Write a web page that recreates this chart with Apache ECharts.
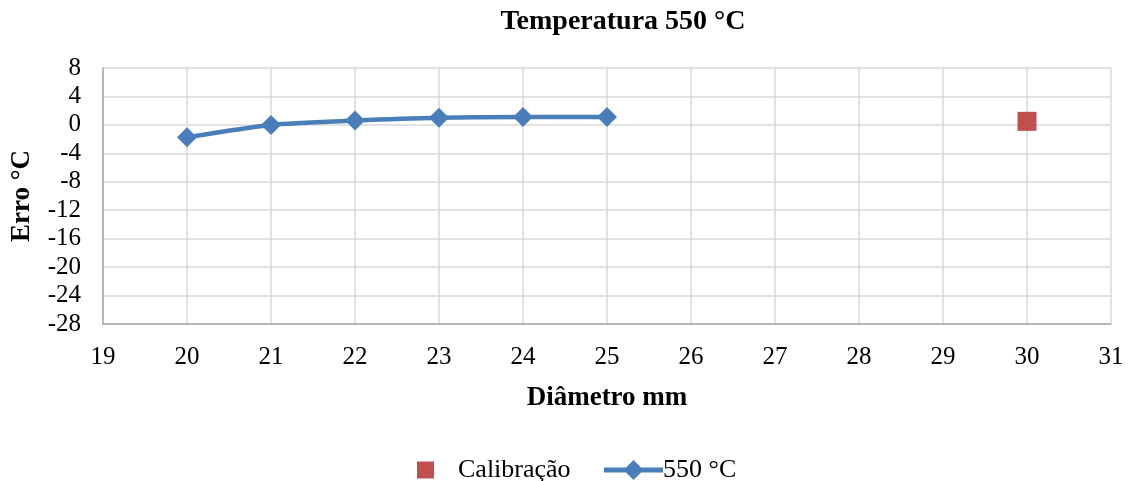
<!DOCTYPE html>
<html><head><meta charset="utf-8">
<script src="https://cdn.jsdelivr.net/npm/echarts@6/dist/echarts.min.js"></script>
<style>html,body{margin:0;padding:0;background:#fff}#c{width:1128px;height:481px}</style>
</head><body><div id="c"></div>
<script>
const diametros = [20, 21, 22, 23, 24, 25];
const erro550 = [-1.75, 0.0, 0.6, 1.0, 1.1, 1.1];
const calibracao = [[30, 0.5]];
const yTicks = {min: -28, max: 8, interval: 4};
const xTicks = {min: 19, max: 31, interval: 1};

const F = '"Liberation Serif", "Times New Roman", serif';
const chart = echarts.init(document.getElementById('c'));
chart.setOption({
  animation: false,
  title: {text: 'Temperatura 550 °C', left: 618, top: 3, textAlign: 'center',
    textStyle: {fontFamily: F, fontSize: 28, fontWeight: 'bold', color: '#000'}},
  grid: {left: 103, right: 17, top: 68, bottom: 157},
  xAxis: {type: 'value', min: xTicks.min, max: xTicks.max, interval: xTicks.interval,
    name: 'Diâmetro mm', nameLocation: 'middle', nameGap: 61,
    nameTextStyle: {fontFamily: F, fontSize: 27, fontWeight: 'bold', color: '#000'},
    axisLine: {onZero: false, lineStyle: {color: '#a6a6a6', width: 1.5}}, axisTick: {show: false},
    axisLabel: {fontFamily: F, fontSize: 25, color: '#000', margin: 21},
    splitLine: {lineStyle: {color: '#d9d9d9', width: 1.5}}},
  yAxis: {type: 'value', min: yTicks.min, max: yTicks.max, interval: yTicks.interval,
    name: 'Erro °C', nameLocation: 'middle', nameGap: 67, nameRotate: 90,
    nameTextStyle: {fontFamily: F, fontSize: 27, fontWeight: 'bold', color: '#000'},
    axisLine: {show: true, onZero: false, lineStyle: {color: '#a6a6a6', width: 1.5}}, axisTick: {show: false},
    axisLabel: {fontFamily: F, fontSize: 25, color: '#000', margin: 22},
    splitLine: {lineStyle: {color: '#d9d9d9', width: 1.5}}},
  legend: [
    {data: ['Calibração'], left: 412, top: 452, itemWidth: 17, itemHeight: 17,
      textStyle: {fontFamily: F, fontSize: 26, color: '#000', padding: [0, 0, 0, 19]}},
    {data: [{name: '550 °C', icon: 'path://M0,7.5H59V12.5H0Z M29.5,0L39.5,10L29.5,20L19.5,10Z'}],
      left: 599, top: 452, itemWidth: 59, itemHeight: 20,
      itemStyle: {color: '#4a7ebb', borderWidth: 0},
      textStyle: {fontFamily: F, fontSize: 26, color: '#000', padding: [0, 0, 0, -5]}}
  ],
  series: [
    {name: 'Calibração', type: 'scatter', data: calibracao, symbol: 'rect', symbolSize: 19,
      itemStyle: {color: '#c0504d', opacity: 1}},
    {name: '550 °C', type: 'line', data: diametros.map((d, i) => [d, erro550[i]]),
      smooth: 0.25, symbol: 'diamond', symbolSize: 20,
      lineStyle: {color: '#4a7ebb', width: 4.5}, itemStyle: {color: '#4a7ebb'}}
  ]
});
</script></body></html>
